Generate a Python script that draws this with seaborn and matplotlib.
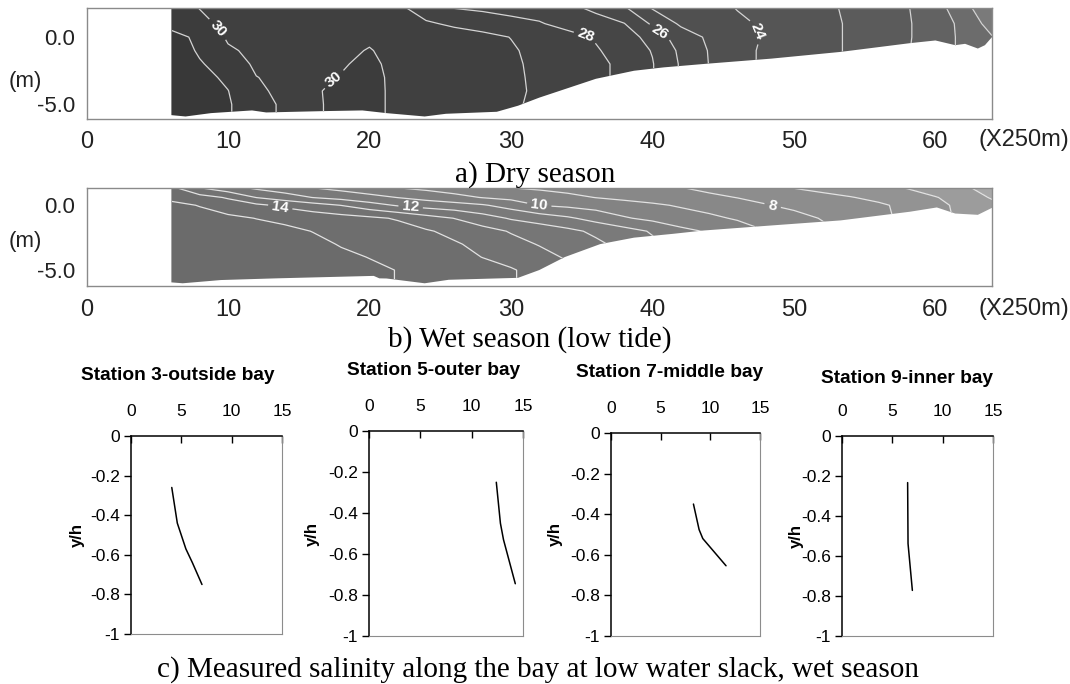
"""Salinity sections along the bay and station profiles (wet / dry season)."""

import numpy as np
import matplotlib
matplotlib.use("Agg")
import matplotlib.pyplot as plt
import seaborn as sns
import pandas as pd
from matplotlib.patches import Polygon

sns.set_theme(style="white")
plt.rcParams["font.family"] = ["Liberation Sans", "DejaVu Sans"]
plt.rcParams.update({"text.color": "black", "axes.labelcolor": "black",
                     "xtick.color": "black", "ytick.color": "black"})

W, H = 1070, 684

# ---------------- along-bay sections (x in units of 250 m, z in m) ----------------
grid_x = [6, 8, 10, 12, 14, 16, 18, 20, 22, 24, 26, 28, 30, 32, 34,
          36, 38, 40, 42, 44, 46, 48, 50, 52, 54, 56, 58, 60, 62, 64]

dry_z = [2.2, 1.0, 0.0, -1.0, -2.0, -3.0, -4.0, -5.0, -6.3]
dry_salinity = [
    [30.3, 29.98, 29.85, 29.75, 29.65, 29.55, 29.45, 29.3, 29.2, 28.5, 27.95, 27.8, 27.6, 27.45, 27.2,
     26.8, 26.1, 24.9, 24.7, 24.4, 23.95, 23.75, 23.5, 23.2, 22.85, 22.5, 22.05, 21.5, 20.2, 19.5],
    [30.6, 30.15, 29.85, 29.75, 29.65, 29.6, 29.55, 29.45, 29.3, 29.12, 28.85, 28.6, 28.35, 28.1, 27.6,
     27.35, 27.03, 25.85, 24.85, 24.6, 24.2, 23.85, 23.6, 23.25, 22.9, 22.5, 22.08, 21.6, 20.7, 19.6],
    [31.4, 30.75, 29.88, 29.8, 29.75, 29.72, 29.75, 29.85, 29.7, 29.55, 29.4, 29.25, 28.98, 28.75, 28.4,
     27.9, 27.5, 26.6, 25.5, 24.85, 24.4, 23.9, 23.6, 23.25, 22.9, 22.5, 22.08, 21.6, 20.75, 20.05],
    [31.7, 30.85, 30.12, 29.8, 29.7, 29.7, 29.8, 30.05, 29.7, 29.55, 29.45, 29.3, 29.1, 28.75, 28.5,
     28.1, 27.55, 26.95, 25.8, 24.95, 24.4, 23.8, 23.55, 23.25, 22.9, 22.5, 22.05, 21.6, 20.75, 20.05],
    [32.0, 31.1, 30.5, 29.85, 29.75, 29.75, 29.9, 30.25, 29.65, 29.6, 29.5, 29.35, 29.15, 28.8, 28.55,
     28.25, 27.75, 27.05, 25.9, 24.98, 24.4, 23.8, 23.55, 23.25, 22.9, 22.5, 22.05, 21.6, 20.75, 20.05],
    [32.1, 31.35, 30.8, 30.02, 29.8, 29.8, 30.05, 30.4, 29.65, 29.65, 29.55, 29.45, 29.2, 28.8, 28.55,
     28.25, 27.75, 27.05, 25.9, 24.98, 24.4, 23.8, 23.55, 23.25, 22.9, 22.5, 22.05, 21.6, 20.75, 20.05],
    [32.2, 31.5, 31.02, 30.15, 29.8, 29.9, 30.2, 30.5, 29.6, 29.7, 29.6, 29.5, 29.25, 28.8, 28.55,
     28.25, 27.75, 27.05, 25.9, 24.98, 24.4, 23.8, 23.55, 23.25, 22.9, 22.5, 22.05, 21.6, 20.75, 20.05],
    [32.3, 31.6, 31.1, 30.35, 29.85, 29.85, 30.25, 30.5, 29.6, 29.75, 29.65, 29.55, 29.3, 28.6, 28.55,
     28.25, 27.75, 27.05, 25.9, 24.98, 24.4, 23.8, 23.55, 23.25, 22.9, 22.5, 22.05, 21.6, 20.75, 20.05],
    [32.3, 31.6, 31.1, 30.35, 29.85, 29.85, 30.25, 30.5, 29.6, 29.75, 29.65, 29.55, 29.3, 28.6, 28.55,
     28.25, 27.75, 27.05, 25.9, 24.98, 24.4, 23.8, 23.55, 23.25, 22.9, 22.5, 22.05, 21.6, 20.75, 20.05],
]
dry_bed_x = [6, 7, 8.8, 11.7, 12.7, 16.8, 19.5, 21.2, 23.9, 25.4, 29, 30.5, 32, 34, 36,
             38.7, 40.8, 43.6, 48.4, 53.3, 58.2, 60, 61.4, 62.1, 63, 63.5, 64]
dry_bed_z = [-5.8, -5.9, -5.65, -5.45, -5.6, -5.5, -5.45, -5.65, -5.9, -5.7, -5.55, -5.1, -4.5, -3.8, -3.1,
             -2.5, -2.25, -2.0, -1.6, -1.1, -0.45, -0.25, -0.6, -0.5, -0.85, -0.6, 0.0]
dry_label_levels = [24, 26, 28, 30]
dry_label_at = [(9.15, 0.46), (17.7, -3.4), (35.3, 0.2), (40.5, 0.33), (47.1, 0.2)]

wet_z = [1.36, 0.6, 0.0, -1.0, -2.0, -3.0, -4.0, -5.0, -6.4]
wet_salinity = [
    [14.2, 12.98, 12.33, 11.8, 11.4, 10.98, 10.67, 10.33, 9.98, 9.75, 9.5, 9.25, 8.98, 8.84, 8.67,
     8.51, 8.35, 8.19, 8.02, 7.77, 7.5, 7.23, 6.96, 6.71, 6.46, 6.21, 5.94, 5.54, 5.14, 4.6],
    [14.7, 14.4, 13.9, 12.98, 12.5, 11.98, 11.67, 11.33, 10.98, 10.65, 10.3, 9.96, 9.73, 9.5, 9.25,
     8.98, 8.8, 8.6, 8.4, 8.2, 7.98, 7.76, 7.52, 7.29, 7.05, 6.75, 6.5, 6.05, 5.6, 4.9],
    [15.3, 14.95, 14.5, 14.2, 13.8, 13.4, 12.98, 12.4, 11.9, 11.6, 11.4, 11.1, 10.6, 9.98, 9.8,
     9.6, 9.35, 9.15, 8.9, 8.65, 8.35, 8.05, 7.8, 7.6, 7.4, 7.15, 6.75, 6.3, 5.7, 5.3],
    [15.6, 15.4, 15.2, 14.98, 14.8, 14.6, 14.4, 14.2, 13.9, 13.4, 12.98, 12.45, 11.9, 11.55, 11.15,
     10.65, 10.1, 9.75, 9.45, 9.2, 8.9, 8.6, 8.3, 7.95, 7.6, 7.2, 6.8, 6.3, 5.8, 5.3],
    [15.9, 15.7, 15.5, 15.35, 15.2, 14.98, 14.8, 14.65, 14.45, 14.1, 13.75, 13.35, 12.93, 12.6, 12.25,
     11.8, 11.4, 10.9, 10.25, 9.9, 9.5, 9.02, 8.6, 8.2, 7.8, 7.3, 6.9, 6.4, 5.9, 5.4],
    [16.1, 15.9, 15.7, 15.55, 15.4, 15.2, 14.95, 14.8, 14.6, 14.35, 14.1, 13.75, 13.3, 12.95, 12.6,
     12.2, 11.7, 11.2, 10.6, 10.1, 9.6, 9.1, 8.7, 8.3, 7.9, 7.4, 7.02, 6.5, 6.02, 5.5],
    [16.2, 16.02, 15.85, 15.7, 15.5, 15.3, 15.15, 14.98, 14.8, 14.6, 14.35, 13.98, 13.6, 13.3, 12.9,
     12.5, 12.02, 11.5, 10.9, 10.3, 9.8, 9.3, 8.8, 8.4, 8.02, 7.5, 7.1, 6.6, 6.1, 5.6],
    [16.3, 16.1, 15.95, 15.8, 15.6, 15.45, 15.3, 15.15, 14.98, 14.85, 14.65, 14.4, 14.1, 13.6, 13.2,
     12.8, 12.3, 11.8, 11.2, 10.6, 10.1, 9.6, 9.1, 8.6, 8.1, 7.6, 7.2, 6.7, 6.2, 5.7],
    [16.3, 16.1, 15.95, 15.8, 15.6, 15.45, 15.3, 15.15, 14.98, 14.85, 14.65, 14.4, 14.1, 13.6, 13.2,
     12.8, 12.3, 11.8, 11.2, 10.6, 10.1, 9.6, 9.1, 8.6, 8.1, 7.6, 7.2, 6.7, 6.2, 5.7],
]
wet_bed_x = [6, 6.8, 9.5, 13.4, 20.3, 20.7, 21.2, 23.9, 25.6, 30.5, 32, 33.8, 36.3, 38.7,
             41.5, 43.6, 48.4, 53.3, 58.2, 60.1, 61.4, 63, 64]
wet_bed_z = [-5.95, -6.02, -5.77, -5.64, -5.45, -5.64, -5.65, -6.02, -5.75, -5.6, -5.0, -4.0, -3.0, -2.5,
             -2.2, -1.95, -1.56, -1.17, -0.5, -0.17, -0.64, -0.74, -0.2]
wet_label_levels = [8, 10, 12, 14]
wet_label_at = [(13.7, -0.1), (22.9, -0.3), (32.0, 0.0), (48.5, 0.0)]

# ---------------- station profiles (salinity vs relative depth y/h) ----------------
station_names = ["Station 3-outside bay", "Station 5-outer bay",
                 "Station 7-middle bay", "Station 9-inner bay"]
st3_sal = [4.05, 4.6, 5.45, 6.1, 7.05]
st3_yh = [-0.26, -0.44, -0.57, -0.64, -0.75]
st5_sal = [12.4, 12.8, 13.1, 14.25]
st5_yh = [-0.25, -0.45, -0.53, -0.745]
st7_sal = [8.3, 8.87, 9.24, 11.58]
st7_yh = [-0.35, -0.476, -0.52, -0.654]
st9_sal = [6.52, 6.56, 6.99]
st9_yh = [-0.233, -0.538, -0.772]

DRY_COLORS = ["#7a7a7a", "#6c6c6c", "#626262", "#5b5b5b", "#555555", "#505050", "#4c4c4c",
              "#494949", "#464646", "#434343", "#404040", "#3c3c3c", "#383838"]
WET_COLORS = ["#a8a8a8", "#9c9c9c", "#939393", "#8d8d8d", "#888888", "#838383", "#7e7e7e",
              "#7a7a7a", "#767676", "#727272", "#6e6e6e", "#6b6b6b"]


def px_box(left, top, right, bottom):
    return [left / W, 1 - bottom / H, (right - left) / W, (bottom - top) / H]


def fig_text(fig, x, y, s, **kw):
    return fig.text(x / W, 1 - y / H, s, **kw)


def draw_section(ax, z, sal, bed_x, bed_z, levels, colors, line_color,
                 label_levels, label_at, ylim, yticks):
    X, Z = np.meshgrid(grid_x, z)
    S = np.array(sal)
    cf = ax.contourf(X, Z, S, levels=levels, colors=colors)
    plain = [lv for lv in levels[1:-1] if lv not in label_levels]
    cl = ax.contour(X, Z, S, levels=plain, colors=line_color, linewidths=0.9)
    cl_lab = ax.contour(X, Z, S, levels=label_levels, colors=line_color, linewidths=0.9)
    labels = ax.clabel(cl_lab, manual=label_at, inline=True,
                       fmt="%d", fontsize=11, colors="white")
    for t in labels:
        t.set_fontweight("bold")

    top = ylim[1] + 1
    outline = [(bed_x[0], top), (bed_x[-1], top)] + list(zip(bed_x[::-1], bed_z[::-1]))
    for cs in (cf, cl, cl_lab):
        cs.set_clip_path(Polygon(outline, closed=True, transform=ax.transData))

    ax.set_xlim(0, 64)
    ax.set_ylim(*ylim)
    ax.set_xticks(range(0, 61, 10))
    ax.set_yticks(yticks)
    ax.set_yticklabels([f"{v:.1f}" for v in yticks])
    for s in ax.spines.values():
        s.set_color("#8a8a8a")
        s.set_linewidth(1.0)
    ax.tick_params(axis="both", colors="#8a8a8a", labelcolor="#222222",
                   direction="out", width=1.0)
    ax.tick_params(axis="x", labelsize=17, length=7, pad=2)
    ax.tick_params(axis="y", labelsize=16, length=6, pad=2)


def draw_profile(ax, sal, yh):
    sns.lineplot(x=sal, y=yh, sort=False, estimator=None, color="black",
                 linewidth=1.1, ax=ax)
    ax.set_xlim(0, 15)
    ax.set_ylim(-1, 0)
    ax.xaxis.tick_top()
    ax.set_xticks([0, 5, 10, 15])
    ax.set_yticks([0, -0.2, -0.4, -0.6, -0.8, -1])
    ax.set_yticklabels(["0", "-0.2", "-0.4", "-0.6", "-0.8", "-1"])
    ax.set_xlabel("")
    ax.set_ylabel("")
    ax.grid(False)
    for side in ("top", "left"):
        ax.spines[side].set_color("black")
        ax.spines[side].set_linewidth(1.1)
    for side in ("bottom", "right"):
        ax.spines[side].set_color("#8c8c8c")
        ax.spines[side].set_linewidth(0.8)
    ax.tick_params(axis="x", direction="in", length=5, width=1, color="black",
                   labelcolor="black", labelsize=12.5, pad=12, top=True, bottom=False)
    ax.tick_params(axis="y", direction="out", length=5, width=1, color="black",
                   labelcolor="black", labelsize=12.5, pad=3, left=True)


fig = plt.figure(figsize=(W / 100, H / 100), dpi=100)

ax_dry = fig.add_axes(px_box(86.5, 7.5, 992, 118.5))
draw_section(ax_dry, dry_z, dry_salinity, dry_bed_x, dry_bed_z,
             [19, 20, 21, 22, 23, 24, 25, 26, 27, 28, 29, 30, 31, 33], DRY_COLORS, "#d4d4d4",
             dry_label_levels, dry_label_at, (-6.05, 2.2), [-5.0, 0.0])

ax_wet = fig.add_axes(px_box(86.5, 188, 992, 286))
draw_section(ax_wet, wet_z, wet_salinity, wet_bed_x, wet_bed_z,
             [4, 5, 6, 7, 8, 9, 10, 11, 12, 13, 14, 15, 17], WET_COLORS, "#e2e2e2",
             wet_label_levels, wet_label_at, (-6.23, 1.33), [-5.0, 0.0])

for yc in (81, 241):
    fig_text(fig, 25, yc, "(m)", ha="center", va="center", fontsize=16, color="#222222")
fig_text(fig, 978, 140, "(X250m)", ha="left", va="center", fontsize=17, color="#222222")
fig_text(fig, 978, 309, "(X250m)", ha="left", va="center", fontsize=17, color="#222222")

serif = ["Liberation Serif", "DejaVu Serif"]
fig_text(fig, 535, 182, "a) Dry season", ha="center", va="baseline", fontsize=21, family=serif)
fig_text(fig, 530, 347, "b) Wet season (low tide)", ha="center", va="baseline", fontsize=21, family=serif)
fig_text(fig, 538, 677, "c) Measured salinity along the bay at low water slack, wet season",
         ha="center", va="baseline", fontsize=21, family=serif)

profile_boxes = [(131, 436, 282, 634), (369, 431, 523, 636), (611, 433, 760, 636), (842, 436, 993, 636)]
title_pos = [(178, 375), (434, 370), (670, 373), (907, 378)]
ylabel_x = [77, 312, 555, 796]
profiles = [(st3_sal, st3_yh), (st5_sal, st5_yh), (st7_sal, st7_yh), (st9_sal, st9_yh)]

for box, name, (tx, ty), lx, (sal, yh) in zip(profile_boxes, station_names, title_pos, ylabel_x, profiles):
    ax = fig.add_axes(px_box(*box))
    draw_profile(ax, sal, yh)
    fig_text(fig, tx, ty, name, ha="center", va="center", fontsize=13.8, fontweight="bold")
    fig_text(fig, lx, (box[1] + box[3]) / 2, "y/h", ha="center", va="center",
             rotation=90, fontsize=12, fontweight="bold")

fig.savefig("out.png", dpi=100)
